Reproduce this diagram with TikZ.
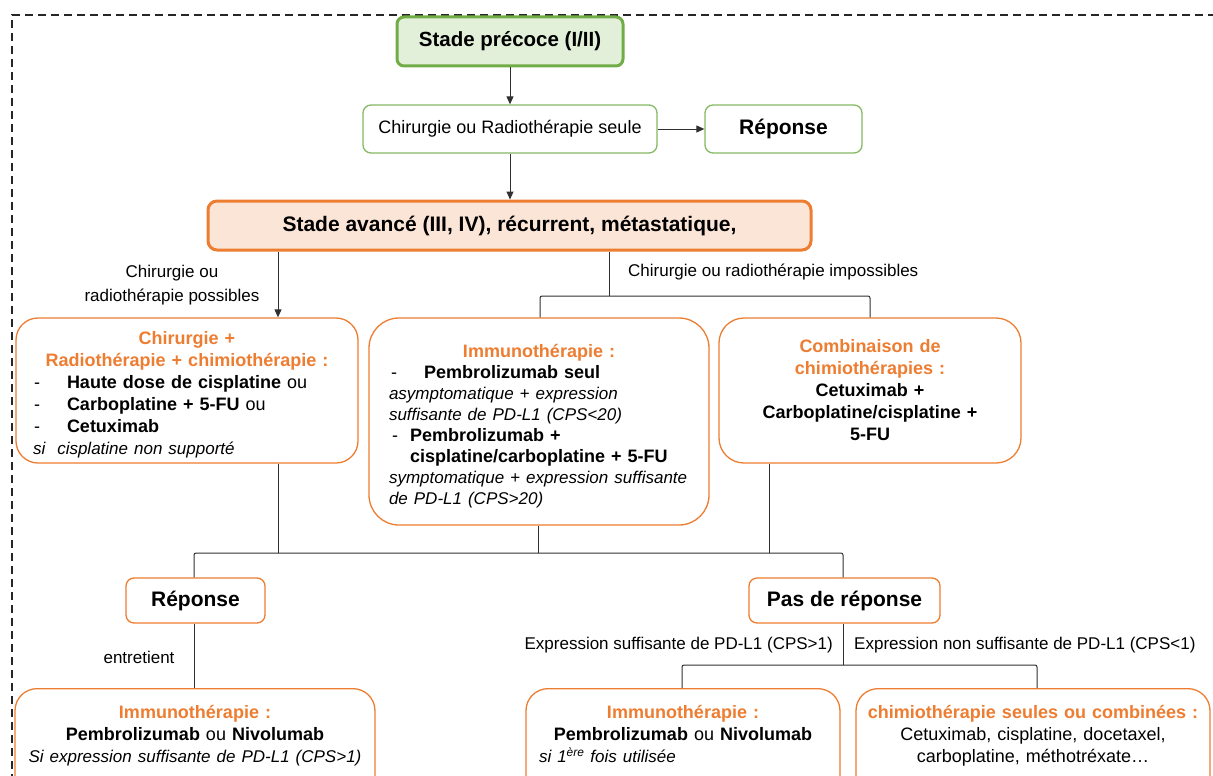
\documentclass[tikz,border=0pt]{standalone}
\usepackage{fontspec}
\setmainfont{Liberation Sans}
\usepackage{tikz}
\usetikzlibrary{arrows.meta}
\definecolor{vert}{HTML}{70AD47}
\definecolor{vertclair}{HTML}{E2F0D9}
\definecolor{orangeT}{HTML}{ED7D31}
\definecolor{orangeclair}{HTML}{FBE5D6}
\definecolor{trait}{HTML}{303030}
\setlength{\parindent}{0pt}
\newcommand{\ortitre}{\color{orangeT}\bfseries}
\newcommand{\ital}[1]{{\fontsize{17}{21}\selectfont\itshape #1}}
\newcommand{\tiret}[2]{\makebox[#2][l]{\hspace*{#1}-}}

\begin{document}
\begin{tikzpicture}[
x=1pt, y=-1pt,
cadre/.style={draw=black!85, line width=1.4pt, dash pattern=on 8pt off 5pt},
lien/.style={draw=trait, line width=1pt, rounded corners=2pt},
fleche/.style={lien, -{Triangle[length=8pt,width=7pt]}},
titrevert/.style={draw=vert, line width=3pt, fill=vertclair, rounded corners=7pt, font=\fontsize{20.5}{24}\selectfont\bfseries},
titreorange/.style={draw=orangeT, line width=3pt, fill=orangeclair, rounded corners=9pt, font=\fontsize{21}{25}\selectfont\bfseries},
petitvert/.style={draw=vert!85, line width=1.3pt, fill=white, rounded corners=8pt, font=\fontsize{18}{22}\selectfont},
petitorange/.style={draw=orangeT, line width=1.3pt, fill=white, rounded corners=8pt, font=\fontsize{21}{25}\selectfont\bfseries},
boite/.style={draw=orangeT, line width=1.3pt, fill=white, font=\fontsize{18}{22}\selectfont},
etiquette/.style={inner sep=0pt, font=\fontsize{17}{24}\selectfont},
]
\useasboundingbox (0,0) rectangle (1213,776);
\draw[cadre] (12,795) -- (12,15) -- (1230,15);

% stades
\node[titrevert, minimum width=226pt, minimum height=49pt] (precoce) at (510,41.5) {Stade précoce (I/II)};
\node[petitvert, minimum width=294pt, minimum height=48pt] (seule) at (510,129) {Chirurgie ou Radiothérapie seule};
\node[petitvert, minimum width=157pt, minimum height=48pt, font=\fontsize{21}{25}\selectfont\bfseries] (reponse1) at (783.5,129) {Réponse};
\node[titreorange, minimum width=603pt, minimum height=49pt] (avance) at (509.5,225.5) {Stade avancé (III, IV), récurrent, métastatique,};

% traitements
\node[boite, rounded corners=22pt, minimum width=342pt, minimum height=145pt, text width=318pt] (chir) at (187,390.5) {%
{\centering\ortitre\rule{0pt}{22pt}Chirurgie +\\Radiothérapie + chimiothérapie :\par}
\raggedright
\tiret{6pt}{39pt}\textbf{Haute dose de cisplatine} ou\\
\tiret{6pt}{39pt}\textbf{Carboplatine + 5-FU} ou\\
\tiret{6pt}{39pt}\textbf{Cetuximab}\\
\hspace*{5pt}\ital{si\ \ cisplatine non supporté}};
\node[boite, rounded corners=30pt, minimum width=340pt, minimum height=207pt, text width=300pt, font=\fontsize{18}{21}\selectfont] (immuno) at (539,421.5) {%
{\centering\ortitre\rule{0pt}{22pt}Immunothérapie :\par}
\raggedright
\tiret{2pt}{35pt}\textbf{Pembrolizumab seul}\\
\ital{asymptomatique + expression\\suffisante de PD-L1 (CPS<20)}\\
\tiret{3pt}{21pt}\textbf{Pembrolizumab +}\\
\hspace*{21pt}\textbf{cisplatine/carboplatine + 5-FU}\\
\ital{symptomatique + expression suffisante\\de PD-L1 (CPS>20)}};
\node[boite, rounded corners=25pt, minimum width=302pt, minimum height=145pt, text width=280pt, align=center] (combi) at (870,390.5) {%
{\ortitre Combinaison de\\chimiothérapies :}\\
\textbf{Cetuximab +\\Carboplatine/cisplatine +\\5-FU}};

% reponses
\node[petitorange, minimum width=139pt, minimum height=45pt] (reponse2) at (195.5,600.5) {Réponse};
\node[petitorange, minimum width=191pt, minimum height=45pt] (pasrep) at (844.5,600.5) {Pas de réponse};

\node[boite, anchor=north, rounded corners=22pt, minimum width=360pt, inner ysep=17pt, text width=340pt, align=center] (immuno2) at (195,688) {%
{\ortitre Immunothérapie :}\\
\textbf{Pembrolizumab} ou \textbf{Nivolumab}\\
\ital{Si expression suffisante de PD-L1 (CPS>1)}\rule[-40pt]{0pt}{0pt}};
\node[boite, anchor=north, rounded corners=22pt, minimum width=314pt, inner ysep=17pt, text width=292pt] (immuno3) at (683,688) {%
{\centering\ortitre Immunothérapie :\\
\color{black}Pembrolizumab \mdseries ou \bfseries Nivolumab\par}
\raggedright
\hspace*{2pt}\ital{si 1\textsuperscript{ère} fois utilisée}\rule[-40pt]{0pt}{0pt}};
\node[boite, anchor=north, rounded corners=22pt, minimum width=354pt, inner ysep=17pt, text width=340pt, align=center] (chimio) at (1033,688) {%
{\ortitre chimiothérapie seules ou combinées :}\\
Cetuximab, cisplatine, docetaxel,\\
carboplatine, méthotréxate…\rule[-40pt]{0pt}{0pt}};

% etiquettes
\node[etiquette, align=center] (possible) at (172,285) {Chirurgie ou\\radiothérapie possibles};
\node[etiquette, anchor=west] (impossible) at (628,272) {Chirurgie ou radiothérapie impossibles};
\node[etiquette] (entretient) at (139,657) {entretient};
\node[etiquette, anchor=east] (suffisante) at (833,645) {Expression suffisante de PD-L1 (CPS>1)};
\node[etiquette, anchor=west] (nonsuffisante) at (854,645) {Expression non suffisante de PD-L1 (CPS<1)};

% jonctions
\coordinate (chirx) at (278,0);
\coordinate (imp) at (609,296);
\coordinate (immh) at (540,296);
\coordinate (combh) at (870,296);
\coordinate (bas1) at (278,553);
\coordinate (bas2) at (538,553);
\coordinate (bas3) at (769,553);
\coordinate (repj) at (194,553);
\coordinate (pasj) at (843,553);
\coordinate (expr) at (843,665);
\coordinate (expg) at (682,665);
\coordinate (expd) at (1037,665);

\draw[fleche] (precoce.south) -- (seule.north);
\draw[fleche] (seule.east) -- (reponse1.west);
\draw[fleche] (seule.south) -- (seule.south |- avance.north);
\draw[fleche] (avance.south -| chirx) -- (chir.north -| chirx);
\draw[lien] (avance.south -| imp) -- (imp);
\draw[lien] (immuno.north -| immh) -- (immh) -- (combh) -- (combi.north -| combh);
\draw[lien] (chir.south -| bas1) -- (bas1);
\draw[lien] (immuno.south -| bas2) -- (bas2);
\draw[lien] (combi.south -| bas3) -- (bas3);
\draw[lien] (reponse2.north -| repj) -- (repj) -- (pasj) -- (pasrep.north -| pasj);
\draw[lien] (reponse2.south -| repj) -- (immuno2.north -| repj);
\draw[lien] (pasrep.south -| expr) -- (expr);
\draw[lien] (immuno3.north -| expg) -- (expg) -- (expd) -- (chimio.north -| expd);
\end{tikzpicture}
\end{document}
